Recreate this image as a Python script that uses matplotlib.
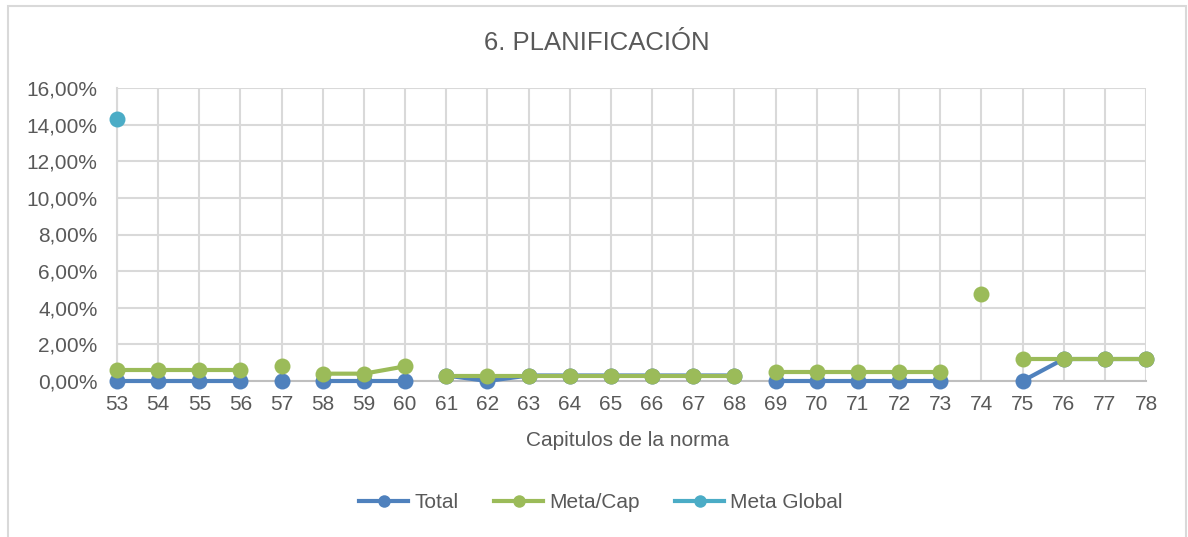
import numpy as np
import matplotlib
matplotlib.use("Agg")
import matplotlib.pyplot as plt
from matplotlib.patches import Rectangle
from matplotlib.lines import Line2D
from matplotlib.ticker import FuncFormatter

plt.rcParams['font.family'] = ['Liberation Sans', 'DejaVu Sans']

# Chapters of the standard and the section each one belongs to
capitulos = [53, 54, 55, 56, 57, 58, 59, 60, 61, 62, 63, 64, 65,
             66, 67, 68, 69, 70, 71, 72, 73, 74, 75, 76, 77, 78]
seccion = [1, 1, 1, 1, 2, 3, 3, 3, 4, 4, 4, 4, 4,
           4, 4, 4, 5, 5, 5, 5, 5, 6, 7, 7, 7, 7]

# Percentages (%)
total = [0.0, 0.0, 0.0, 0.0, 0.0, 0.0, 0.0, 0.0, 0.3, 0.0, 0.3, 0.3, 0.3,
         0.3, 0.3, 0.3, 0.0, 0.0, 0.0, 0.0, 0.0, np.nan, 0.0, 1.2, 1.2, 1.2]
meta_cap = [0.6, 0.6, 0.6, 0.6, 0.8, 0.4, 0.4, 0.8, 0.3, 0.3, 0.3, 0.3, 0.3,
            0.3, 0.3, 0.3, 0.5, 0.5, 0.5, 0.5, 0.5, 4.76, 1.2, 1.2, 1.2, 1.2]
meta_global = [14.29] + [np.nan] * 25

y_ticks = [0, 2, 4, 6, 8, 10, 12, 14, 16]

C_TOTAL = '#4F81BD'
C_META = '#9BBB59'
C_GLOBAL = '#4BACC6'
TXT = '#595959'
GRID = '#D9D9D9'

W, H = 1188, 537
fig = plt.figure(figsize=(W / 100, H / 100), dpi=100)
fig.patch.set_facecolor('white')

# Chart area border
fig.patches.append(Rectangle((8 / W, -0.02), (1186 - 8) / W, 1 - 6 / H + 0.02,
                             transform=fig.transFigure, fill=False,
                             edgecolor='#D9D9D9', linewidth=1.5))

ax = fig.add_axes([117 / W, 1 - 381 / H, (1146 - 117) / W, (381 - 88) / H])

x = np.array(capitulos)
sec = np.array(seccion)


def draw_series(values, color, z):
    v = np.array(values, dtype=float)
    for s in np.unique(sec):
        m = sec == s
        ax.plot(x[m], v[m], color=color, linewidth=3.0, marker='o',
                markersize=11.5, markeredgewidth=0, clip_on=False,
                zorder=z, solid_capstyle='round')


draw_series(total, C_TOTAL, 3)
draw_series(meta_cap, C_META, 4)
draw_series(meta_global, C_GLOBAL, 5)

ax.set_xlim(53, 78)
ax.set_ylim(0, 16)
ax.set_xticks(capitulos)
ax.set_xticklabels([str(c) for c in capitulos])
ax.set_yticks(y_ticks)
ax.yaxis.set_major_formatter(FuncFormatter(lambda v, p: f"{v:.2f}%".replace('.', ',')))

ax.grid(True, color=GRID, linewidth=1.5)
ax.set_axisbelow(True)
for side in ['top', 'right']:
    ax.spines[side].set_visible(False)
ax.spines['left'].set_color(GRID)
ax.spines['left'].set_linewidth(1.5)
ax.spines['bottom'].set_color('#BFBFBF')
ax.spines['bottom'].set_linewidth(1.5)
ax.tick_params(axis='both', length=0, labelsize=15, labelcolor=TXT)
ax.tick_params(axis='x', pad=10)
ax.tick_params(axis='y', pad=14)

fig.text(0.5025, 1 - 43 / H, '6. PLANIFICACIÓN', ha='center', va='center',
         fontsize=18.5, color=TXT)
fig.text(0.5285, 1 - 441 / H, 'Capitulos de la norma', ha='center', va='center',
         fontsize=15, color=TXT)

handles = [Line2D([0], [0], color=c, linewidth=3.0, marker='o', markersize=9,
                  markeredgewidth=0) for c in (C_TOTAL, C_META, C_GLOBAL)]
fig.legend(handles, ['Total', 'Meta/Cap', 'Meta Global'], loc='center',
           bbox_to_anchor=(0.506, 1 - 503 / H), ncol=3, frameon=False,
           fontsize=15, labelcolor=TXT, handlelength=2.35, handletextpad=0.3,
           columnspacing=1.7)

fig.savefig('out.png', dpi=100)
